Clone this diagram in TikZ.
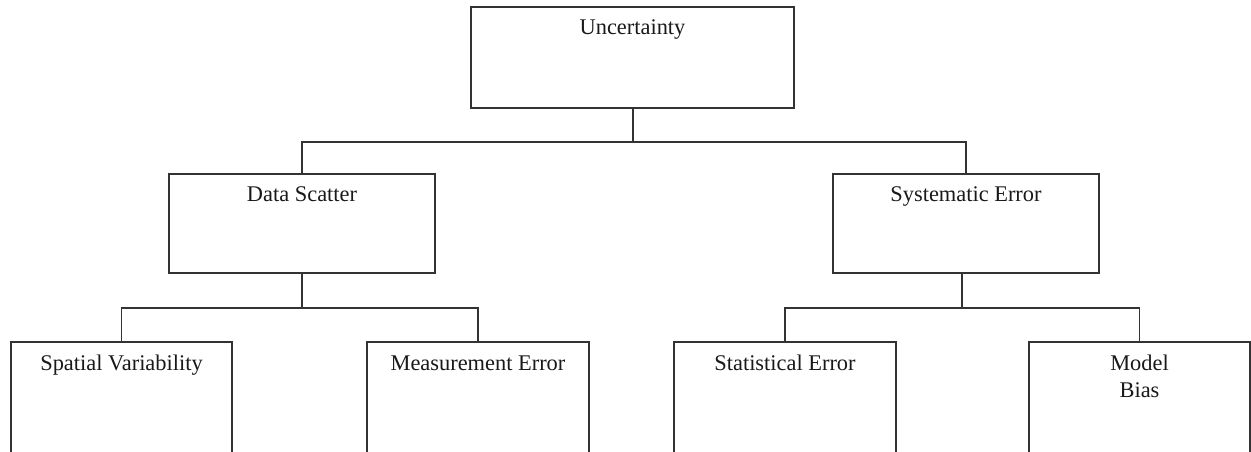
\documentclass[tikz,border=0pt]{standalone}
\usepackage{fontspec}
\setmainfont{Liberation Serif}
\begin{document}
\begin{tikzpicture}[x=0.75pt,y=-0.75pt,
  box/.style={draw=black!80,line width=1pt,rectangle,inner sep=0pt,fill=none},
  lbl/.style={font=\fontsize{16.8}{20.25}\selectfont,anchor=base,align=center,inner sep=0pt,text=black!90},
  conn/.style={draw=black!80,line width=1pt}]
\useasboundingbox (0,0) rectangle (1251,452);
\clip (0,0) rectangle (1251,452);
% boxes
\node[box,minimum width=323*0.75pt,minimum height=101*0.75pt] (U) at (632.5,57.5) {};
\node[box,minimum width=266*0.75pt,minimum height=99*0.75pt] (DS) at (302,223.5) {};
\node[box,minimum width=266*0.75pt,minimum height=99*0.75pt] (SE) at (966,223.5) {};
\node[box,minimum width=221*0.75pt,minimum height=128*0.75pt] (SV) at (121.5,406) {};
\node[box,minimum width=222*0.75pt,minimum height=128*0.75pt] (ME) at (478,406) {};
\node[box,minimum width=222*0.75pt,minimum height=128*0.75pt] (StE) at (785,406) {};
\node[box,minimum width=221*0.75pt,minimum height=128*0.75pt] (MB) at (1139.5,406) {};
% labels
\node[lbl] (tU) at (632.5,35) {Uncertainty};
\node[lbl] (tDS) at (302,202) {Data Scatter};
\node[lbl] (tSE) at (966,202) {Systematic Error};
\node[lbl] (tSV) at (121.5,370) {Spatial Variability};
\node[lbl] (tME) at (478,370) {Measurement Error};
\node[lbl] (tStE) at (785,370) {Statistical Error};
\node[lbl] (tMB) at (1139.5,397) {Model\\Bias};
% junctions
\coordinate (j1) at (633,142);
\coordinate (j2) at (302,308);
\coordinate (j3) at (962,308);
% connectors
\draw[conn] (U.south -| j1) -- (j1);
\draw[conn] (DS.north) |- (j1) -| (SE.north);
\draw[conn] (DS.south) -- (j2);
\draw[conn] (SV.north) |- (j2) -| (ME.north);
\draw[conn] (SE.south -| j3) -- (j3);
\draw[conn] (StE.north) |- (j3) -| (MB.north);
\end{tikzpicture}
\end{document}
